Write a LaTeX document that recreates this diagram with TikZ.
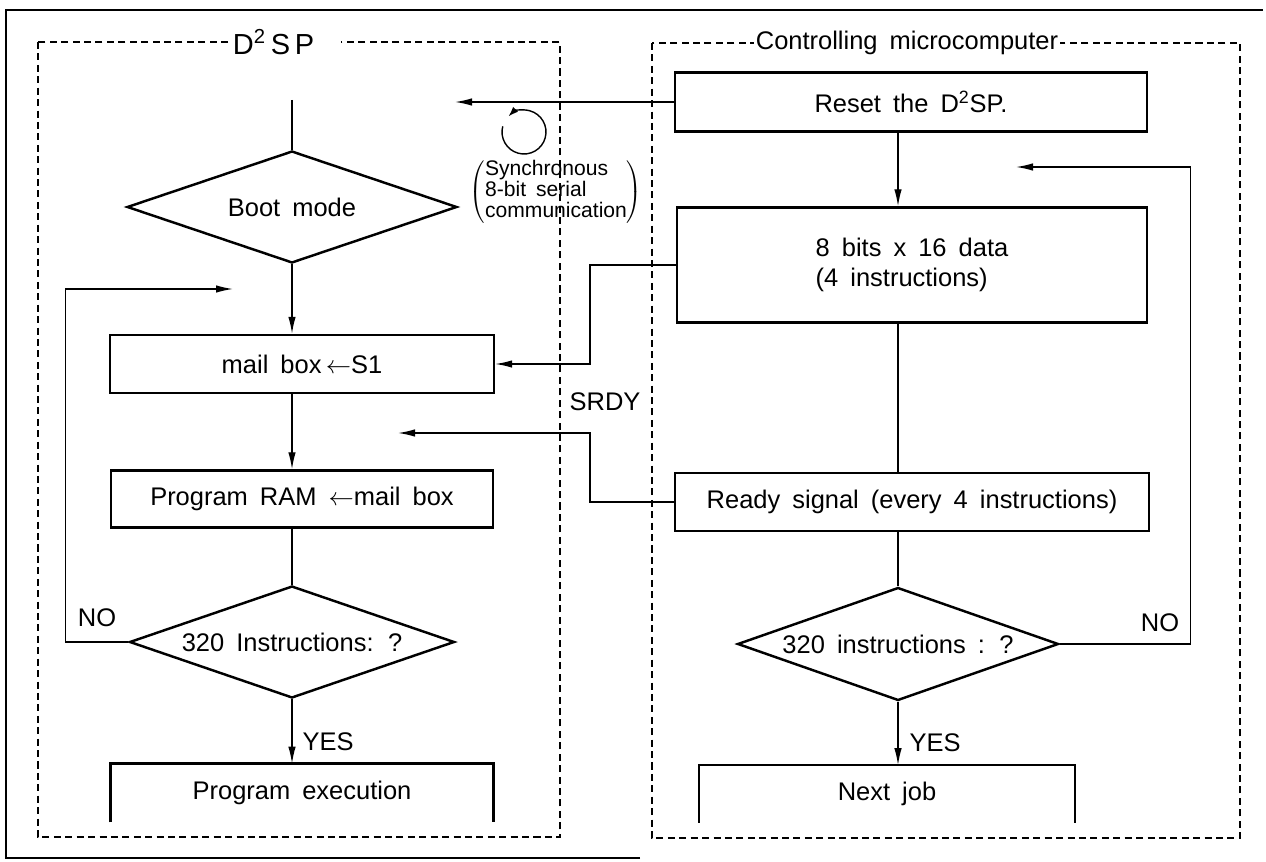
\documentclass[tikz,border=0pt]{standalone}
\usepackage{fontspec}
\setmainfont[WordSpace=1.7]{Liberation Sans}
\usepackage{tikz}
\usetikzlibrary{shapes.geometric, arrows.meta, positioning, calc}
\tikzset{
  procbox/.style={rectangle, draw, line width=1.4pt, inner sep=0pt},
  openbox/.style={rectangle, inner sep=0pt},
  decision/.style={diamond, draw, line width=1.4pt, aspect=2.9, inner sep=0pt},
  flow/.style={line width=0.8pt},
  arrow/.style={-{Latex[length=3.4mm, width=1.5mm]}, line width=0.8pt},
  region/.style={line width=0.8pt, dash pattern=on 4pt off 2.5pt},
  lbl/.style={inner sep=1pt},
}

\begin{document}
\begin{tikzpicture}[x=0.02cm, y=-0.02cm, font=\fontsize{14.5}{17.5}\selectfont]
  \useasboundingbox (0,0) rectangle (1266,861);
  \draw[line width=1pt] (640,858) -- (6,858) -- (6,10) -- (1263,10);
  \draw[region] (38,42) rectangle (560,837);
  \draw[region] (652,43) rectangle (1240,838);
  \node[fill=white, anchor=west, inner xsep=0pt, text width=2.24cm, align=left, font=\fontsize{16.5}{18}\selectfont] (dsp) at (229,42) {\hspace{2pt}D\textsuperscript{2}\,S\,P};
  \node[fill=white, inner xsep=1pt, font=\fontsize{14.5}{17}\selectfont] (ctrl) at (907,43) {Controlling microcomputer};

  \node[decision, minimum width=6.6cm, minimum height=2.24cm] (boot) at (292,207) {Boot mode};
  \node[procbox, minimum width=7.68cm, minimum height=1.16cm] (mbox) at (302,364) {mail box\,$\leftarrow$S1};
  \node[procbox, minimum width=7.64cm, minimum height=1.14cm] (ram) at (302,499) {Program RAM $\leftarrow$mail box};
  \node[decision, minimum width=6.5cm, minimum height=2.24cm] (chkL) at (292,642) {320 Instructions: ?};
  \node[openbox, minimum width=7.64cm, minimum height=1.16cm] (exec) at (302,793) {Program execution};
  \draw[line width=1.4pt] (exec.south west) -- (exec.north west) -- (exec.north east) -- (exec.south east);

  \node[procbox, minimum width=9.44cm, minimum height=1.18cm] (reset) at (911,102) {Reset the D\textsuperscript{2}SP.\hspace{1cm}};
  \node[procbox, minimum width=9.4cm, minimum height=2.3cm, align=left] (data) at (912,265) {8 bits x 16 data\\(4 instructions)};
  \node[procbox, minimum width=9.48cm, minimum height=1.16cm] (ready) at (912,502) {Ready signal (every 4 instructions)};
  \node[decision, minimum width=6.42cm, minimum height=2.26cm] (chkR) at (898,644) {320 instructions : ?};
  \node[openbox, minimum width=7.5cm, minimum height=1.14cm] (next) at (887,794) {Next job};
  \draw[line width=1.4pt] (next.south west) -- (next.north west) -- (next.north east) -- (next.south east);

  \coordinate (entry) at (292,100);
  \coordinate (rsttip) at (455,102);
  \coordinate (loopL) at (233,289);
  \coordinate (loopR) at (1016,167);
  \coordinate (srdytip) at (398,433);

  \draw[arrow] (reset.west) -- (rsttip);
  \draw[-{Latex[length=2mm, width=1.4mm]}, line width=0.8pt] ([shift={(165:0.44cm)}]524,132) arc[start angle=165, end angle=495, radius=0.44cm];
  \node[font=\fontsize{12}{11.5}\selectfont] (sync) at (556,192) {$\left(\begin{tabular}{@{}l@{}}Synchronous\\8-bit serial\\communication\end{tabular}\right)$};

  \draw[flow] (entry) -- (boot.north);
  \draw[arrow] (boot.south) -- (boot.south |- mbox.north);
  \draw[arrow] (boot.south |- mbox.south) -- (boot.south |- ram.north);
  \draw[flow] (boot.south |- ram.south) -- (chkL.north);
  \draw[arrow] (chkL.south) -- (chkL.south |- exec.north);
  \draw[arrow] (chkL.west) -- ++(-63,0) |- (loopL);
  \node[lbl] (noL) at (97,618) {NO};
  \node[lbl] (yesL) at (328,742) {YES};

  \draw[arrow] (reset.south -| chkR.north) -- (data.north -| chkR.north);
  \draw[flow] (data.south -| chkR.north) -- (ready.north -| chkR.north);
  \draw[flow] (ready.south -| chkR.north) -- (chkR.north);
  \draw[arrow] (chkR.south) -- (chkR.south |- next.north);
  \draw[arrow] (chkR.east) -- ++(131,0) |- (loopR);
  \node[lbl] (noR) at (1160,623) {NO};
  \node[lbl] (yesR) at (935,743) {YES};

  \draw[arrow] (data.west) -- ++(-86,0) |- (mbox.east);
  \draw[arrow] (ready.west) -- ++(-84,0) |- (srdytip);
  \node[lbl] (srdy) at (605,402) {SRDY};
\end{tikzpicture}
\end{document}
